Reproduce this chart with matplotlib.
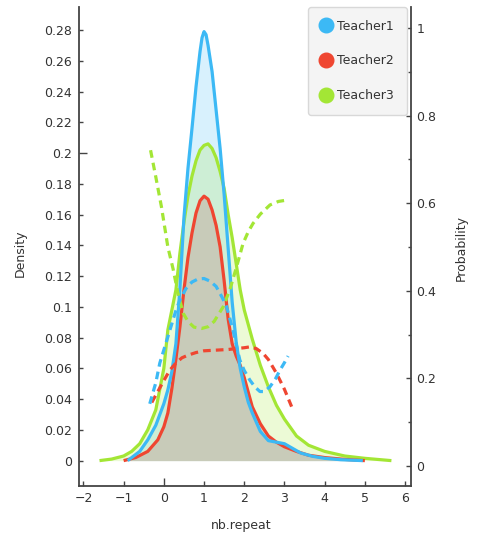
import matplotlib
matplotlib.use("Agg")
import matplotlib.pyplot as plt
from matplotlib.lines import Line2D
from matplotlib.ticker import MultipleLocator, FormatStrFormatter

# ---------------- data ----------------
series_names = ["Teacher1", "Teacher2", "Teacher3"]
colors = ["#3cb9f5", "#ef4631", "#a3e635"]

# density curves (left axis)
t1_x = [-0.9, -0.8, -0.6, -0.4, -0.2, 0.0, 0.1, 0.2, 0.3, 0.4, 0.5, 0.6, 0.7, 0.8, 0.9, 0.95,
        1.0, 1.05, 1.1, 1.2, 1.3, 1.4, 1.5, 1.6, 1.7, 1.8, 1.9, 2.0, 2.1, 2.2, 2.4, 2.6, 2.8,
        3.0, 3.2, 3.4, 3.7, 4.0, 4.4, 4.95]
t1_y = [0.0, 0.002, 0.006, 0.0135, 0.023, 0.037, 0.046, 0.058, 0.076, 0.112, 0.158, 0.190,
        0.216, 0.243, 0.266, 0.275, 0.279, 0.277, 0.270, 0.253, 0.228, 0.203, 0.173, 0.138,
        0.103, 0.077, 0.060, 0.048, 0.038, 0.031, 0.019, 0.013, 0.012, 0.011, 0.008, 0.005,
        0.0028, 0.0015, 0.0006, 0.0]

t2_x = [-1.0, -0.7, -0.4, -0.15, 0.0, 0.1, 0.2, 0.3, 0.4, 0.5, 0.6, 0.7, 0.8, 0.9, 1.0, 1.1,
        1.2, 1.3, 1.4, 1.5, 1.6, 1.7, 1.8, 1.9, 2.0, 2.2, 2.4, 2.6, 2.8, 3.0, 3.3, 3.6, 4.0,
        4.5, 5.0]
t2_y = [0.0, 0.002, 0.006, 0.0135, 0.022, 0.031, 0.047, 0.066, 0.087, 0.111, 0.132, 0.148,
        0.161, 0.169, 0.172, 0.170, 0.163, 0.153, 0.139, 0.117, 0.092, 0.076, 0.068, 0.062,
        0.054, 0.035, 0.024, 0.016, 0.012, 0.009, 0.006, 0.0035, 0.002, 0.0008, 0.0]

t3_x = [-1.6, -1.3, -1.0, -0.8, -0.6, -0.4, -0.2, 0.0, 0.1, 0.2, 0.3, 0.4, 0.5, 0.6, 0.7, 0.8,
        0.9, 1.0, 1.1, 1.2, 1.3, 1.4, 1.5, 1.6, 1.7, 1.8, 1.9, 2.0, 2.2, 2.4, 2.6, 2.8, 3.0,
        3.3, 3.6, 4.0, 4.5, 5.0, 5.66]
t3_y = [0.0, 0.001, 0.003, 0.006, 0.011, 0.020, 0.033, 0.060, 0.085, 0.098, 0.111, 0.135,
        0.155, 0.172, 0.185, 0.195, 0.202, 0.205, 0.206, 0.203, 0.197, 0.188, 0.177, 0.160,
        0.145, 0.128, 0.111, 0.098, 0.079, 0.062, 0.048, 0.036, 0.027, 0.016, 0.010, 0.006,
        0.003, 0.0015, 0.0]

# probability curves (right axis)
p1_x = [-0.35, -0.2, -0.1, 0.0, 0.15, 0.3, 0.4, 0.55, 0.7, 0.85, 1.0, 1.15, 1.3, 1.45, 1.56,
        1.72, 1.89, 2.0, 2.14, 2.27, 2.39, 2.5, 2.64, 2.77, 2.89, 3.0, 3.09]
p1_y = [0.142, 0.19, 0.235, 0.265, 0.31, 0.355, 0.379, 0.405, 0.42, 0.427, 0.428, 0.422, 0.41,
        0.385, 0.364, 0.31, 0.242, 0.218, 0.196, 0.18, 0.17, 0.17, 0.181, 0.198, 0.219, 0.236,
        0.251]

p2_x = [-0.3, -0.15, 0.0, 0.15, 0.3, 0.45, 0.6, 0.8, 1.0, 1.2, 1.4, 1.6, 1.8, 2.0, 2.14, 2.3,
        2.47, 2.6, 2.8, 3.0, 3.18]
p2_y = [0.145, 0.17, 0.195, 0.219, 0.235, 0.247, 0.253, 0.259, 0.263, 0.264, 0.265, 0.266,
        0.268, 0.27, 0.272, 0.268, 0.257, 0.243, 0.212, 0.175, 0.135]

p3_x = [-0.33, -0.2, -0.06, 0.1, 0.23, 0.35, 0.48, 0.6, 0.75, 0.94, 1.1, 1.25, 1.48, 1.65, 1.81,
        1.97, 2.1, 2.22, 2.4, 2.64, 2.85, 3.05]
p3_y = [0.721, 0.66, 0.592, 0.5, 0.45, 0.395, 0.349, 0.33, 0.317, 0.314, 0.318, 0.33, 0.364,
        0.405, 0.455, 0.508, 0.535, 0.554, 0.575, 0.596, 0.604, 0.607]

density_ticks = [0, 0.02, 0.04, 0.06, 0.08, 0.1, 0.12, 0.14, 0.16, 0.18, 0.2, 0.22, 0.24, 0.26, 0.28]
prob_ticks = [0, 0.2, 0.4, 0.6, 0.8, 1]
x_ticks = [-2, -1, 0, 1, 2, 3, 4, 5, 6]

# ---------------- figure ----------------
W, H = 478, 536
fig = plt.figure(figsize=(W / 100, H / 100), dpi=100)
ax = fig.add_axes([79 / W, 50 / H, 331.7 / W, 479 / H])
ax2 = ax.twinx()

spine_col = "#444444"
txt_col = "#333333"
fill_colors = ["#3cb9f5", "#b4424a", "#a3e635"]

dens = [(t1_x, t1_y), (t2_x, t2_y), (t3_x, t3_y)]
probs = [(p1_x, p1_y), (p2_x, p2_y), (p3_x, p3_y)]

# fills
for (xs, ys), c, z in zip(dens, fill_colors, [1, 3, 2]):
    ax.fill_between(xs, 0, ys, color=c, alpha=0.2, linewidth=0, zorder=z)
# solid lines: green under red under blue
for i in [2, 1, 0]:
    xs, ys = dens[i]
    ax.plot(xs, ys, color=colors[i], lw=2.3, solid_capstyle="butt",
            solid_joinstyle="round", zorder=5 + (2 - i))

# dashed probability lines
for i in [2, 1, 0]:
    xs, ys = probs[i]
    ax2.plot(xs, ys, color=colors[i], lw=2.3, linestyle=(0, (2.4, 1.6)), zorder=3)

ax.set_xlim(-2.11, 6.14)
ax.set_ylim(-0.0165, 0.295)
ax2.set_ylim(-0.0457, 1.048)

ax.set_xticks(x_ticks)
ax.set_yticks(density_ticks)
ax.yaxis.set_major_formatter(FormatStrFormatter("%g"))
ax2.set_yticks(prob_ticks)
ax2.yaxis.set_major_formatter(FormatStrFormatter("%g"))
ax2.yaxis.set_minor_locator(MultipleLocator(0.1))

for a in (ax, ax2):
    a.spines["top"].set_visible(False)
    for s in a.spines.values():
        s.set_color(spine_col)
        s.set_linewidth(1.3)
ax.spines["right"].set_visible(False)
ax2.spines["left"].set_visible(False)
ax2.spines["bottom"].set_visible(False)

ax.tick_params(axis="both", which="major", direction="in", length=3.2, width=1,
               color=spine_col, labelcolor=txt_col, labelsize=9, pad=5)
ax.tick_params(axis="x", length=3.8, pad=4)
ax2.tick_params(axis="y", which="major", direction="in", length=3.8, width=1,
                color=spine_col, labelcolor=txt_col, labelsize=9, pad=4)
ax2.tick_params(axis="y", which="minor", direction="in", length=2.5, width=1, color=spine_col)

# emphasised ticks
for t, v in zip(ax.yaxis.get_major_ticks(), density_ticks):
    if abs(v - 0.2) < 1e-9:
        t.tick1line.set_markersize(6)
for t, v in zip(ax.xaxis.get_major_ticks(), x_ticks):
    if v == 0:
        t.tick1line.set_markersize(6)

# axis labels
fig.text(20 / W, 1 - 253 / H, "Density", rotation=90, ha="center", va="center",
         fontsize=9, color=txt_col)
fig.text(461 / W, 1 - 248 / H, "Probability", rotation=90, ha="center", va="center",
         fontsize=9, color=txt_col)
fig.text(241 / W, 1 - 526 / H, "nb.repeat", ha="center", va="center",
         fontsize=9, color=txt_col)

# legend
handles = [Line2D([], [], marker="o", linestyle="none", color=c, markersize=10.5)
           for c in colors]
leg = ax2.legend(handles, series_names, loc="upper right", bbox_to_anchor=(0.988, 1.0),
                 fontsize=9, frameon=True, fancybox=True, labelspacing=1.75,
                 borderpad=1.0, handlelength=0.9, handletextpad=0.45, borderaxespad=0)
leg.get_frame().set_facecolor("#f4f4f4")
leg.get_frame().set_edgecolor("#d8d8d8")
leg.get_frame().set_alpha(1)
leg.get_frame().set_linewidth(1)
for t in leg.get_texts():
    t.set_color(txt_col)
leg.set_zorder(10)

fig.savefig("out.png", dpi=100)
